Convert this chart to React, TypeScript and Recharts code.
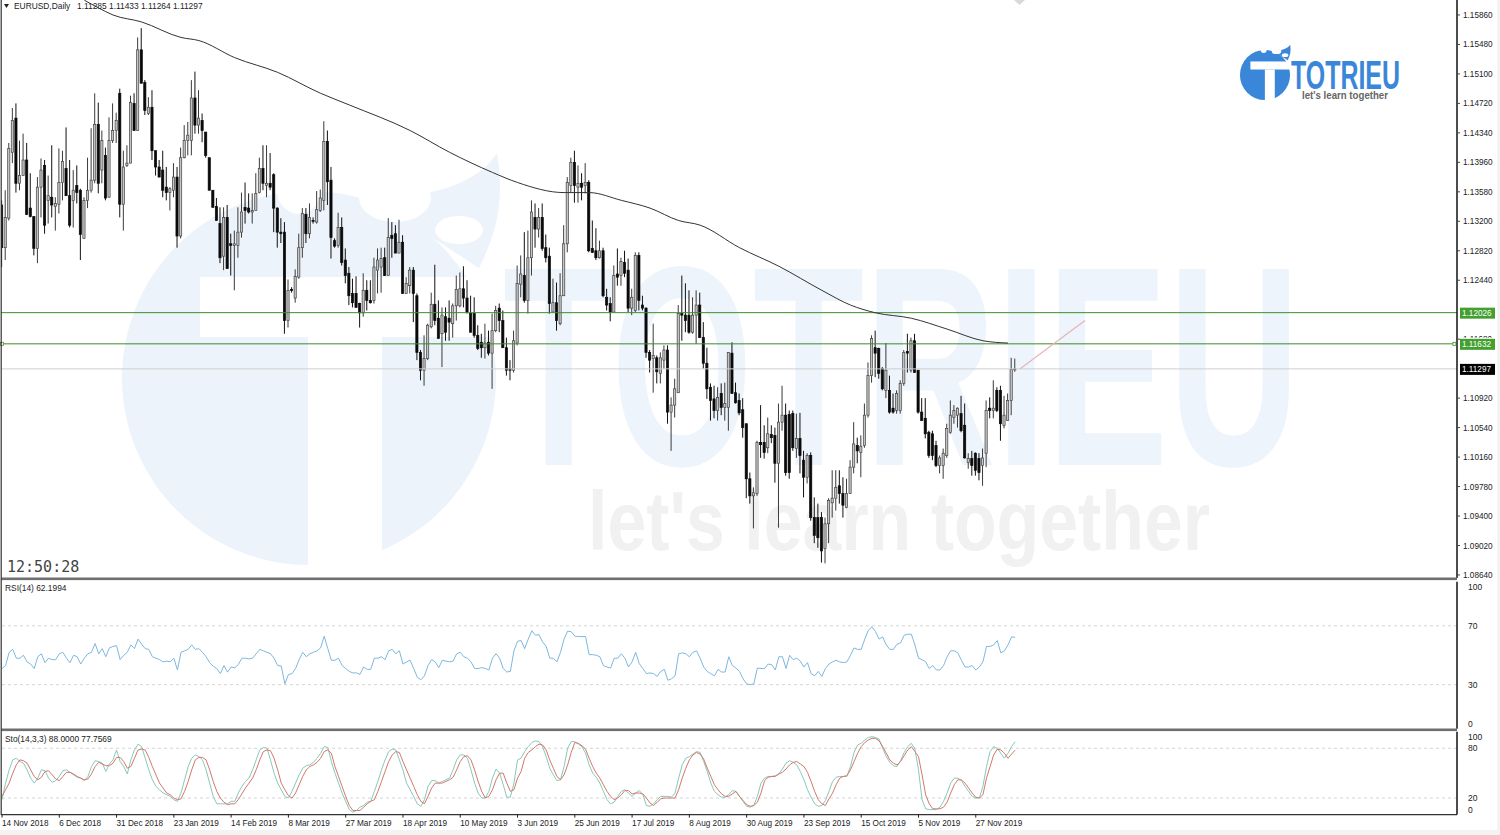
import React from "react";
import { Bar, ComposedChart, Line, ReferenceDot, ReferenceLine, XAxis, YAxis } from "recharts";

// prices below are in 1/10000 units (11297 = 1.1297)
const highs = [
  11347,11360,11421,11466,11472,11424,11433,11421,11382,11326, 11377,11401,11399,11379,11418,11351,11414,11411,11441,11399,
  11386,11392,11362,11351,11402,11440,11485,11473,11437,11415, 11454,11472,11460,11491,11411,11418,11482,11485,11557,11569,
  11502,11480,11489,11411,11399,11411,11390,11364,11395,11390, 11415,11444,11448,11502,11513,11489,11459,11435,11402,11360,
  11350,11338,11338,11341,11304,11308,11338,11357,11370,11356, 11356,11382,11402,11418,11418,11408,11382,11338,11324,11319,
  11245,11235,11258,11304,11337,11337,11343,11325,11359,11361, 11449,11437,11390,11298,11331,11325,11285,11261,11246,11249,
  11215,11253,11244,11244,11273,11285,11286,11286,11324,11319, 11315,11322,11302,11248,11261,11261,11227,11154,11173,11188,
  11228,11264,11218,11209,11209,11218,11214,11250,11254,11262, 11244,11224,11222,11186,11175,11188,11179,11201,11211,11214,
  11205,11170,11141,11179,11263,11276,11306,11308,11347,11343, 11337,11343,11303,11286,11246,11241,11253,11315,11377,11402,
  11411,11392,11382,11395,11373,11321,11311,11295,11286,11233, 11222,11263,11285,11273,11282,11272,11233,11280,11280,11224,
  11209,11154,11188,11147,11151,11160,11160,11093,11117,11212, 11250,11240,11231,11222,11231,11228,11190,11157,11111,11108,
  11106,11111,11112,11151,11164,11112,11098,11092,11059,10996, 10977,11037,11083,11057,11067,11057,11054,11085,11108,11085,
  11076,11076,11072,11073,11024,11021,11022,10964,10956,10945, 10938,10963,10999,10999,10999,10990,10988,11012,11061,11041,
  11044,11085,11138,11173,11179,11157,11132,11163,11121,11098, 11102,11115,11154,11175,11170,11175,11128,11092,11092,11050,
  11050,11037,11018,11027,11059,11089,11083,11080,11095,11085, 11021,11024,11022,11021,11027,11089,11093,11115,11106,11108,
  11095,11098,11144,11143,
];
const lows = [
  11261,11270,11321,11395,11357,11360,11379,11328,11325,11276, 11266,11325,11304,11317,11325,11308,11330,11347,11353,11312,
  11312,11343,11270,11298,11337,11357,11369,11356,11369,11347, 11351,11421,11421,11325,11308,11390,11395,11437,11437,11498,
  11457,11457,11399,11379,11377,11351,11347,11334,11351,11286, 11298,11401,11405,11405,11433,11433,11422,11402,11360,11338,
  11321,11266,11257,11259,11250,11231,11273,11299,11317,11330, 11317,11338,11356,11360,11351,11360,11306,11286,11292,11175,
  11183,11228,11215,11246,11273,11292,11298,11317,11317,11332, 11334,11341,11272,11286,11286,11263,11240,11212,11209,11209,
  11183,11197,11205,11214,11214,11227,11228,11250,11250,11273, 11279,11279,11227,11227,11227,11190,11141,11115,11108,11141,
  11182,11186,11169,11132,11166,11166,11170,11192,11209,11209, 11201,11177,11170,11154,11144,11143,11147,11104,11177,11177,
  11157,11121,11115,11125,11160,11222,11215,11201,11250,11286, 11299,11282,11267,11201,11203,11179,11186,11224,11280,11357,
  11344,11344,11347,11356,11280,11279,11270,11272,11222,11205, 11191,11203,11237,11237,11248,11203,11199,11203,11205,11205,
  11144,11125,11099,11111,11111,11130,11059,11024,11067,11099, 11166,11177,11175,11175,11162,11170,11130,11091,11063,11066,
  11063,11070,11063,11050,11098,11085,11070,11041,10963,10956, 10924,10966,11015,11014,11021,11034,10983,10925,11050,10992,
  10988,11024,11015,10995,10964,10982,10934,10905,10899,10880, 10879,10905,10938,10947,10956,10938,10950,10969,10995,11008,
  10990,11028,11067,11112,11119,11117,11102,11092,11072,11072, 11072,11072,11108,11125,11125,11125,11072,11063,11040,11015,
  11012,11003,10995,10988,11015,11046,11059,11054,11048,11014, 11001,10992,10992,10986,10979,11003,11066,11066,11074,11037,
  11053,11063,11070,11126,
];
const opens = [
  11341,11286,11324,11409,11453,11369,11379,11399,11337,11326, 11285,11364,11392,11347,11351,11339,11342,11370,11388,11353,
  11347,11366,11360,11298,11347,11360,11373,11445,11386,11405, 11351,11424,11437,11485,11342,11392,11395,11472,11437,11541,
  11499,11459,11467,11411,11390,11386,11364,11357,11360,11377, 11301,11402,11424,11424,11479,11444,11450,11435,11402,11360,
  11339,11317,11275,11325,11291,11289,11289,11306,11338,11337, 11332,11334,11357,11388,11366,11369,11380,11337,11306,11306,
  11192,11232,11221,11248,11286,11329,11304,11321,11319,11334, 11347,11423,11373,11295,11289,11312,11270,11253,11227,11227,
  11214,11202,11231,11218,11218,11257,11261,11273,11250,11302, 11304,11279,11293,11227,11237,11257,11224,11151,11128,11143,
  11184,11213,11195,11175,11197,11195,11188,11211,11211,11233, 11221,11201,11201,11173,11164,11157,11164,11150,11179,11208,
  11192,11157,11130,11128,11163,11239,11250,11218,11273,11325, 11310,11325,11286,11275,11203,11215,11188,11224,11291,11366,
  11396,11364,11369,11366,11370,11285,11282,11273,11282,11222, 11214,11203,11252,11250,11267,11257,11208,11205,11276,11212,
  11208,11151,11143,11144,11124,11141,11154,11074,11083,11099, 11201,11199,11199,11177,11199,11212,11170,11137,11106,11091,
  11076,11098,11080,11080,11150,11099,11089,11077,11059,10988, 10966,10969,11035,11035,11028,11045,11044,11008,11061,11070,
  11071,11072,11027,11040,11012,10990,11018,10938,10938,10938, 10898,10930,10957,10963,10979,10969,10951,10969,11003,11031,
  11022,11031,11070,11121,11157,11156,11130,11102,11102,11079, 11076,11076,11111,11152,11128,11166,11128,11074,11066,11048,
  11046,11031,11005,11005,11018,11048,11067,11070,11072,11057, 11009,11014,11021,11014,11005,11021,11079,11076,11102,11102,
  11057,11063,11089,11128.5,
];
const closes = [
  11286,11325,11414,11450,11369,11379,11399,11329,11326,11285, 11364,11386,11315,11353,11341,11343,11370,11397,11353,11315,
  11360,11357,11303,11347,11360,11373,11445,11369,11424,11350, 11424,11437,11450,11342,11390,11395,11473,11437,11541,11498,
  11463,11467,11411,11390,11377,11360,11357,11362,11377,11301, 11402,11424,11431,11479,11444,11453,11437,11405,11360,11338,
  11321,11273,11325,11259,11289,11291,11306,11332,11334,11332, 11334,11356,11388,11369,11369,11364,11337,11306,11304,11192,
  11231,11231,11249,11286,11330,11304,11325,11320,11335,11350, 11423,11371,11299,11288,11312,11267,11250,11224,11215,11209,
  11202,11231,11218,11215,11261,11270,11272,11250,11299,11298, 11279,11293,11227,11240,11257,11227,11151,11128,11143,11186,
  11213,11192,11169,11199,11177,11190,11211,11232,11233,11221, 11203,11177,11173,11156,11157,11163,11150,11179,11205,11192,
  11157,11128,11128,11166,11240,11252,11218,11273,11332,11310, 11325,11285,11273,11214,11215,11192,11224,11291,11370,11396,
  11366,11369,11364,11370,11282,11280,11273,11282,11224,11212, 11203,11250,11248,11268,11253,11208,11222,11276,11218,11208,
  11151,11141,11147,11126,11144,11154,11074,11083,11104,11201, 11199,11192,11177,11199,11212,11170,11137,11104,11089,11076,
  11093,11080,11085,11151,11098,11086,11073,11054,10988,10966, 10970,11035,11032,11022,11046,11041,11008,11061,11070,10996,
  10996,11028,11040,11018,10990,11018,10938,10915,10912,10895, 10930,10960,10963,10977,10969,10954,10969,11003,11033,11024,
  11030,11070,11121,11169,11150,11124,11104,11128,11074,11074, 11098,11111,11151,11150,11166,11125,11074,11063,11046,11018,
  11018,11005,11015,11021,11053,11070,11076,11079,11050,11015, 11014,11005,10999,10996,11015,11076,11076,11079,11076,11059,
  11070,11089,11129,11129.7,
];

// slow moving average, read at the bars where the curve bends
const maBars = [23,27,31,39,50,55,65,77,89,97,114,125,137,144,157,164,173,181,189,195,206,217,229,237,244,254,264,274,281];
const maValues = [11605,11595,11586,11577,11557,11553,11531,11512,11485,11470,11437,11409,11383,11370,11357,11357,11347,11337,11321,11315,11286,11262,11231,11212,11202,11195,11181,11166,11163];

const rsiValues = [
  41,43,52,54,48,48,50,45.5,44,41, 49,51,45,48,47,47,51,52,48,45, 50,49,44,48,51,52,58,51,54.5,49,
  55,56,56.5,47,50,52,57,54.5,61,57.5, 54.5,54,49,48,47,45.5,46,45.5,48,40, 52,53,54,57,54,54.5,52,49,45,42.5,
  41,37.5,43,38.5,42,41.5,43.6,48,48,47.5, 48,51,54,53,52,51,48,43,42.7,30.6, 36.8,37.5,41,47,52,49,51,52,53,55,
  63,54.5,46.6,46.6,48,43,41,39,38,38, 37,42,40.4,40.4,48,48,49,47,53,54, 51,53,44,45.5,46.6,41,35,33.4,36,43,
  47,45.5,41.6,46.6,46,45.5,46,51,52,49, 48,45.5,41,41,41.6,41,40,48,51,48, 41,38.6,39,53,59.5,60,54.5,61,66.6,63.6,
  64,59,56,48,48,45.5,52,61,66.4,66, 63,62.7,62.7,62.7,50.4,50.4,50,49,43,42, 41.3,48,48,51,48,42,45.5,52,44.3,41,
  37.5,38,37.5,35.6,39,40.4,33,34,36,51, 51.6,51,49,52,53,48,42,39,37.5,36, 40.4,38.6,38.6,49,43,41.3,39,34,30.6,30,
  30.6,41.3,41,41,44,43.6,40,49,49,41, 50,47,48,46,42,45,37.5,36,39,35.6, 41,44,45.5,46.6,45.5,45,45.5,50,55,54,
  54,61,67,69.3,66,61,62.5,57,54,54, 57.5,58.4,63.6,64.3,64.3,57,48,47,45.5,41, 43,40,40,43,49,53,53,51.6,46.6,42,
  42,43,40,42,45.5,56,56,57,60,51.6, 53,57,62.5,62.2,
];

const stoMain = [
  18,38,54,66,68,64,62,54,44,38, 44,54,53,44,39,41,46,53,54,51, 48,45,44,41,46,58,65,64,62,52,
  61,66,78,64,58,49,66,78,85,82, 68,54,42,34,30,26,24,22,18,16, 26,42,58,68,72,70,66,54,38,22,
  13,13,13,13,16,16,26,34,40,44, 54,66,78,81,80,66,50,38,30,22, 20,28,38,48,56,59,60,63,68,74,
  82,81,64,50,38,26,16,6,3,5, 9,11,15,16,28,40,54,66,76,79, 78,66,54,38,30,22,13,10,18,34,
  41,41,38,40,42,44,54,66,72,72, 68,54,38,26,20,20,28,44,55,50, 36,21,21,38,66,68,76,82,87,89,
  88,82,70,56,48,41,42,58,80,88, 88,85,82,74,60,50,45,38,28,18, 13,15,22,28,30,26,22,26,29,24,
  11,10,13,18,22,22,22,21,26,44, 60,68,70,73,76,75,64,52,38,28, 24,21,21,24,29,28,22,16,10,9,
  11,22,38,44,46,46,47,49,55,62, 65,63,60,52,42,30,21,13,10,11, 17,28,40,45,46,46,46,58,75,84,
  86,90,93,94,93,91,80,70,63,59, 58,65,75,82,86,79,54,18,7,6, 6,6,9,16,26,38,44,44,41,34,
  28,22,20,20,34,58,76,82,80,74, 68,74,82,88,
];
const stoSignal = [
  22,30,38,50,60,66,65,62,54,46, 42,45,52,53,48,43,41,46,51,51, 49,46,44,42,43,49,58,63,61,59,
  59,62,69,69,64,56,58,68,78,79, 78,69,58,48,38,32,26,24,20,18, 19,28,40,54,66,69,69,66,54,40,
  28,20,15,12,13,13,18,25,32,38, 44,54,66,76,78,77,68,54,38,30, 23,20,26,36,46,54,58,60,63,68,
  76,78,74,58,46,34,22,11,5,5, 5,9,13,16,18,28,40,52,64,72, 76,75,64,54,44,34,24,16,13,22,
  32,38,38,38,40,42,45,54,64,70, 71,66,54,40,28,20,22,30,42,50, 50,38,28,30,44,52,68,75,78,82,
  85,84,78,66,56,46,42,48,60,75, 87,86,83,79,68,58,50,44,36,28, 22,18,20,24,29,29,25,26,26,25,
  20,14,11,15,19,20,20,20,20,30, 44,56,66,72,75,73,67,56,46,36, 30,25,22,22,25,28,22,17,12,10,
  11,15,26,41,45,46,46,49,51,55, 60,63,64,61,58,51,40,28,18,13, 11,19,26,36,44,46,47,54,64,74,
  82,87,90,92,92,89,82,74,66,62, 60,64,71,78,82,76,70,48,24,13, 7,7,7,9,15,26,36,42,42,38,
  32,26,21,20,24,44,58,72,79,78, 74,68,73,77.76,
];

const dateLabels = ["14 Nov 2018","6 Dec 2018","31 Dec 2018","23 Jan 2019","14 Feb 2019","8 Mar 2019","27 Mar 2019","18 Apr 2019","10 May 2019","3 Jun 2019","25 Jun 2019","17 Jul 2019","8 Aug 2019","30 Aug 2019","23 Sep 2019","15 Oct 2019","5 Nov 2019","27 Nov 2019"];
const dateTicks = dateLabels.map((_, k) => k * 16);
// 1.1130 and 1.1206 sit fully under the price tags, so they are left out; 1.1168 only peeks above its tag
const priceTicks = [1.0864,1.0902,1.094,1.0978,1.1016,1.1054,1.1092,1.1168,1.1244,1.1282,1.132,1.1358,1.1396,1.1434,1.1472,1.151,1.1548,1.1586];
const rsiTicks = [0, 30, 70, 100];
const stoTicks = [0, 20, 80, 100];

const priceData = highs.map((h, i) => {
  const maAt = maBars.indexOf(i);
  return {
    bar: i,
    high: h / 10000,
    low: lows[i] / 10000,
    open: opens[i] / 10000,
    close: closes[i] / 10000,
    ma: maAt >= 0 ? maValues[maAt] / 10000 : null,
  };
});
const rsiData = rsiValues.map((rsi, bar) => ({ bar, rsi }));
const stoData = stoMain.map((main, bar) => ({ bar, main, signal: stoSignal[bar] }));

const BAR_DOMAIN: [number, number] = [-0.28, 406.42];
const FONT = "'Liberation Sans', Arial, sans-serif";
const NARROW = "'Liberation Sans Narrow', sans-serif";
const chartMargin = { left: 1, right: 0 };

function Candle(props: any) {
  const { x, y, width, height, payload } = props;
  const unit = height / (payload.high - payload.low);
  const mid = x + width / 2;
  const oy = y + (payload.high - payload.open) * unit;
  const cy = y + (payload.high - payload.close) * unit;
  const up = payload.close >= payload.open;
  return (
    <g>
      <line x1={mid} x2={mid} y1={y} y2={y + height} stroke={up ? "#3a3a3a" : "#111"} strokeWidth={1} />
      <rect
        x={x + 0.3}
        width={width - 0.6}
        y={Math.min(oy, cy)}
        height={Math.max(Math.abs(oy - cy), 0.8)}
        fill={up ? "#c4c4c4" : "#0a0a0a"}
        stroke={up ? "#444" : "#0a0a0a"}
        strokeWidth={0.7}
      />
    </g>
  );
}

function PriceTag({ viewBox, text, fill }: any) {
  const right = viewBox.x + viewBox.width;
  return (
    <g>
      <rect x={right + 3} y={viewBox.y - 5} width={35} height={11} fill={fill} />
      <text x={right + 5} y={viewBox.y + 3.5} fontSize={8.2} fontFamily={FONT} fill="#fff">{text}</text>
    </g>
  );
}

function SquareHandle({ cx, cy }: any) {
  return <rect x={cx - 1.5} y={cy - 1.5} width={3} height={3} fill="#fff" stroke="#4b8a3a" strokeWidth={0.8} />;
}

function PriceTick({ x, y, payload }: any) {
  const peeking = payload.value === 1.1168;
  return (
    <g>
      {peeking && (
        <clipPath id="peek">
          <rect x={x} y={y - 6} width={40} height={4.5} />
        </clipPath>
      )}
      <text x={x + 1} y={y + 3} fontSize={8.2} fontFamily={FONT} fill="#222" clipPath={peeking ? "url(#peek)" : undefined}>
        {payload.value.toFixed(5)}
      </text>
    </g>
  );
}

function LevelTick({ x, y, payload }: any) {
  const shift = payload.value === 100 ? 5 : payload.value === 0 ? -5 : 0;
  return (
    <text x={x + 3} y={y + 3 + shift} fontSize={8.5} fontFamily={FONT} fill="#222">{payload.value}</text>
  );
}

function DateTick({ x, y, payload }: any) {
  return (
    <text x={x} y={y + 6} fontSize={8.2} fontFamily={FONT} fill="#222">{dateLabels[payload.value / 16]}</text>
  );
}

function Logo({ cx, cy, scale, fill }: any) {
  return (
    <g transform={`translate(${cx} ${cy}) scale(${scale})`}>
      <circle r={187} fill={fill} />
      <path d="M70 -175 C120 -185 165 -190 188 -225 C195 -180 190 -150 170 -110 Z" fill={fill} />
      <ellipse cx={-10} cy={-188} rx={22} ry={24} fill="#fff" />
      <ellipse cx={86} cy={-180} rx={36} ry={24} fill="#fff" />
      <ellipse cx={150} cy={-148} rx={24} ry={14} fill="#fff" />
      <rect x={-109} y={-101} width={305} height={60} fill="#fff" />
      <rect x={-1} y={-41} width={74} height={235} fill="#fff" />
    </g>
  );
}

export default function App() {
  return (
    <div style={{ position: "absolute", left: 0, top: 0, width: 1500, height: 835, background: "#fff", overflow: "hidden" }}>
      {/* watermark and logo sit under the charts */}
      <svg width={1500} height={835} style={{ position: "absolute", left: 0, top: 0 }}>
        <Logo cx={309} cy={378} scale={1} fill="#edf3fb" />
        <text x={503} y={465} fontSize={285} fontWeight="bold" fontFamily={NARROW} fill="#edf4fc" textLength={797} lengthAdjust="spacingAndGlyphs">TOTRIEU</text>
        <text x={588} y={550} fontSize={84} fontWeight="bold" fontFamily={NARROW} fill="#f1f1f1" textLength={622} lengthAdjust="spacingAndGlyphs">let's learn together</text>
        <Logo cx={1265} cy={75} scale={0.134} fill="#3a87d9" />
        <text x={1291} y={88.5} fontSize={41} fontWeight="bold" fontFamily={NARROW} fill="#3a87d9" textLength={109} lengthAdjust="spacingAndGlyphs">TOTRIEU</text>
        <text x={1302} y={98.5} fontSize={11.5} fontWeight="bold" fontFamily={NARROW} fill="#666" textLength={86} lengthAdjust="spacingAndGlyphs">let's learn together</text>
      </svg>

      <div style={{ position: "absolute", left: 0, top: 0 }}>
        <ComposedChart width={1500} height={584} data={priceData} margin={{ ...chartMargin, top: 0, bottom: 6 }}>
          <XAxis dataKey="bar" type="number" domain={BAR_DOMAIN} hide allowDataOverflow />
          <YAxis
            orientation="right"
            width={43}
            domain={[1.08601, 1.16053]}
            ticks={priceTicks}
            interval={0}
            allowDataOverflow
            tick={<PriceTick />}
            tickSize={3}
            stroke="#000"
            tickLine={{ stroke: "#444" }}
            axisLine={{ stroke: "#000", strokeWidth: 1.4 }}
          />
          <ReferenceLine y={1.12022} stroke="#3f8a2c" strokeWidth={1} label={<PriceTag text="1.12026" fill="#43a02f" />} />
          <ReferenceLine y={1.1162} stroke="#3f8a2c" strokeWidth={1} label={<PriceTag text="1.11632" fill="#43a02f" />} />
          <ReferenceLine y={1.11297} stroke="#cfcfcf" strokeWidth={1} label={<PriceTag text="1.11297" fill="#000" />} />
          <ReferenceDot x={0} y={1.1162} shape={<SquareHandle />} />
          <ReferenceDot x={405.7} y={1.1162} shape={<SquareHandle />} />
          <ReferenceLine
            segment={[{ x: 284.4, y: 1.113 }, { x: 302.5, y: 1.1192 }]}
            stroke="#e6b5b5"
            strokeWidth={1.2}
          />
          <Bar dataKey={(d: any) => [d.low, d.high]} barSize={2.8} shape={<Candle />} isAnimationActive={false} />
          <Line type="monotone" dataKey="ma" stroke="#333" strokeWidth={1} dot={false} connectNulls isAnimationActive={false} />
        </ComposedChart>
      </div>

      <div style={{ position: "absolute", left: 0, top: 578 }}>
        <ComposedChart width={1500} height={151} data={rsiData} margin={{ ...chartMargin, top: 3.7, bottom: 0.2 }}>
          <XAxis dataKey="bar" type="number" domain={BAR_DOMAIN} hide allowDataOverflow />
          <YAxis orientation="right" width={43} domain={[0, 100]} ticks={rsiTicks} interval={0} tick={<LevelTick />} tickLine={false} axisLine={{ stroke: "#000", strokeWidth: 1.4 }} />
          <ReferenceLine y={70} stroke="#d4d4d4" strokeDasharray="3 3" />
          <ReferenceLine y={30} stroke="#d4d4d4" strokeDasharray="3 3" />
          <Line dataKey="rsi" stroke="#7db8dc" strokeWidth={1} dot={false} isAnimationActive={false} />
        </ComposedChart>
      </div>

      <div style={{ position: "absolute", left: 0, top: 729 }}>
        <ComposedChart width={1500} height={106} data={stoData} margin={{ ...chartMargin, top: 2.7, bottom: 0 }}>
          <XAxis
            dataKey="bar"
            type="number"
            domain={BAR_DOMAIN}
            ticks={dateTicks}
            interval={0}
            height={20.4}
            allowDataOverflow
            tick={<DateTick />}
            tickSize={3}
            tickLine={{ stroke: "#222" }}
            axisLine={{ stroke: "#333", strokeWidth: 1.2 }}
          />
          <YAxis orientation="right" width={43} domain={[0, 100]} ticks={stoTicks} interval={0} tick={<LevelTick />} tickLine={false} axisLine={{ stroke: "#000", strokeWidth: 1.4 }} />
          <ReferenceLine y={80} stroke="#d4d4d4" strokeDasharray="3 3" />
          <ReferenceLine y={20} stroke="#d4d4d4" strokeDasharray="3 3" />
          <Line dataKey="main" stroke="#86c9bb" strokeWidth={1} dot={false} isAnimationActive={false} />
          <Line dataKey="signal" stroke="#d4776b" strokeWidth={1} dot={false} isAnimationActive={false} />
        </ComposedChart>
      </div>

      {/* terminal chrome: pane separators, frame, captions */}
      <svg width={1500} height={835} style={{ position: "absolute", left: 0, top: 0, pointerEvents: "none" }}>
        <rect x={1} y={577.5} width={1456} height={2.6} fill="#6f6f6f" />
        <rect x={1} y={728.5} width={1456} height={2.6} fill="#6f6f6f" />
        <rect x={0.6} y={0} width={1.2} height={815} fill="#333" />
        <rect x={1497} y={0} width={3} height={835} fill="#f3f3f3" />
        <rect x={0} y={830} width={1500} height={5} fill="#f3f3f3" />
        <polygon points="4,4 9,4 6.5,8" fill="#222" />
        <text x={14} y={9} fontSize={8.4} fontFamily={FONT} fill="#222">EURUSD,Daily</text>
        <text x={77} y={9} fontSize={8.4} fontFamily={FONT} fill="#222">1.11285 1.11433 1.11264 1.11297</text>
        <text x={7} y={572} fontSize={15} fontFamily="'DejaVu Sans Mono', monospace" fill="#444">12:50:28</text>
        <text x={5} y={591} fontSize={8.4} fontFamily={FONT} fill="#222">RSI(14) 62.1994</text>
        <text x={5} y={742} fontSize={8.4} fontFamily={FONT} fill="#222">Sto(14,3,3) 88.0000 77.7569</text>
        <polygon points="1014,0 1025,0 1019.5,5" fill="#d9d9d9" />
      </svg>
    </div>
  );
}
